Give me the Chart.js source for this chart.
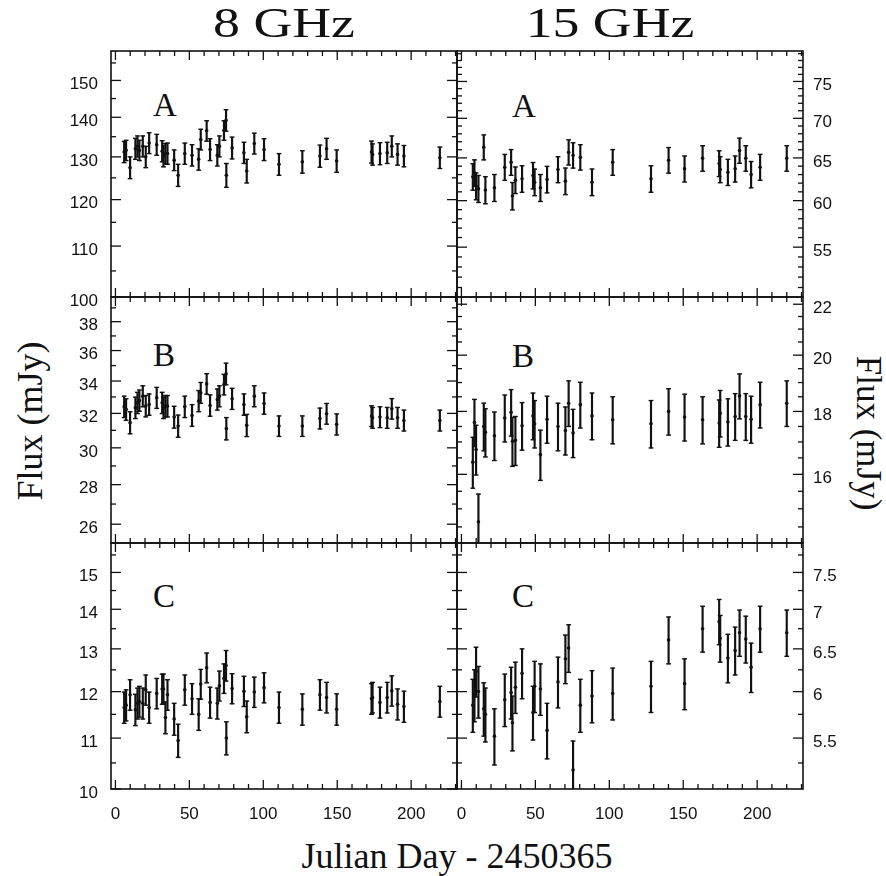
<!DOCTYPE html>
<html>
<head>
<meta charset="utf-8">
<script src="https://cdn.jsdelivr.net/npm/chart.js@4.4.1/dist/chart.umd.min.js"></script>
<style>
  html, body { margin: 0; padding: 0; background: #fff; }
  #fig { position: relative; width: 886px; height: 876px; overflow: hidden; }
  #fig canvas { position: absolute; }
  .txt { position: absolute; font-family: "Liberation Serif", "Times New Roman", serif; color: #111; white-space: nowrap; line-height: 1; }
</style>
</head>
<body>
<div id="fig">
  <div class="txt" style="left:134px;top:1px;width:300px;text-align:center;font-size:43px;transform:scaleX(1.25);">8 GHz</div>
  <div class="txt" style="left:460px;top:1px;width:300px;text-align:center;font-size:43px;transform:scaleX(1.25);">15 GHz</div>
  <div class="txt" style="left:257px;top:838px;width:400px;text-align:center;font-size:36px;">Julian Day - 2450365</div>
  <div class="txt" style="left:-120px;top:403px;width:300px;height:36px;line-height:36px;text-align:center;font-size:36px;transform:rotate(-90deg);">Flux (mJy)</div>
  <div class="txt" style="left:718px;top:415px;width:300px;height:36px;line-height:36px;text-align:center;font-size:35px;transform:rotate(90deg);">Flux (mJy)</div>
  <div class="txt" style="left:153px;top:89px;font-size:33px;">A</div>
  <div class="txt" style="left:512px;top:90px;font-size:33px;">A</div>
  <div class="txt" style="left:153px;top:339px;font-size:33px;">B</div>
  <div class="txt" style="left:512px;top:340px;font-size:33px;">B</div>
  <div class="txt" style="left:153px;top:580px;font-size:33px;">C</div>
  <div class="txt" style="left:512px;top:580px;font-size:33px;">C</div>
</div>
<script>
// --- Data: days since JD 2450365, fluxes in mJy with 1-sigma errors

// 8 GHz epochs
const days8 = [5.9, 7.2, 9.9, 13.5, 14.9, 16.2, 18.5, 20.5, 22.8, 27.9, 31.6, 32.5, 33.8, 35.2, 39.7,
  42.4, 46.9, 51.8, 56.3, 57.7, 61.7, 64.0, 68.9, 70.3, 73.4, 74.8, 75.0, 78.9, 86.9, 88.8,
  93.9, 100.5, 110.6, 126.4, 138.3, 142.8, 149.6, 173.2, 173.9, 178.9, 183.8, 186.9, 190.8, 195.1, 219.4];

const fluxA8 = [131.2, 131.6, 127.4, 132.0, 132.6, 131.6, 132.6, 130.0, 133.4, 133.0, 131.4, 130.2, 130.8, 130.8, 129.2,
  125.6, 130.8, 130.4, 129.4, 134.3, 136.5, 131.8, 130.4, 132.6, 136.6, 139.2, 125.6, 132.2, 131.0, 126.6,
  133.3, 131.8, 128.2, 128.8, 130.2, 132.0, 129.0, 131.2, 130.6, 130.8, 131.0, 132.6, 130.6, 130.2, 129.8];
const errA8 = [2.6, 2.5, 2.6, 2.6, 2.6, 2.5, 2.6, 2.6, 2.6, 2.6, 2.6, 2.6, 2.5, 2.6, 2.5,
  2.6, 2.6, 2.6, 2.6, 2.6, 2.6, 2.7, 2.6, 2.6, 2.5, 2.8, 2.8, 2.7, 2.6, 2.8,
  2.6, 2.7, 2.6, 2.7, 2.7, 2.6, 2.7, 2.7, 2.6, 2.7, 2.6, 2.6, 2.6, 2.6, 2.6];

const fluxB8 = [32.40, 32.24, 31.45, 32.34, 32.64, 32.78, 33.05, 32.44, 32.54, 32.95, 32.64, 32.34, 32.44, 32.44, 31.78,
  31.25, 32.40, 31.88, 32.75, 33.26, 33.82, 32.48, 32.85, 33.05, 33.78, 34.46, 31.10, 32.89, 32.54, 31.29,
  33.05, 32.60, 31.25, 31.25, 31.70, 31.98, 31.35, 31.84, 31.74, 31.78, 31.74, 32.28, 31.74, 31.58, 31.58];
const errB8 = [0.65, 0.65, 0.65, 0.65, 0.65, 0.65, 0.65, 0.65, 0.65, 0.65, 0.65, 0.65, 0.65, 0.65, 0.65,
  0.65, 0.65, 0.65, 0.65, 0.65, 0.65, 0.65, 0.65, 0.65, 0.65, 0.70, 0.65, 0.65, 0.65, 0.65,
  0.65, 0.65, 0.60, 0.60, 0.62, 0.62, 0.62, 0.62, 0.62, 0.62, 0.62, 0.62, 0.62, 0.62, 0.62];

const fluxC8 = [11.65, 11.70, 11.93, 11.60, 11.74, 11.78, 11.74, 12.04, 11.65, 11.96, 12.06, 12.06, 11.43, 11.93, 11.40,
  10.95, 12.04, 11.84, 11.50, 12.17, 12.55, 11.76, 11.74, 12.13, 12.30, 12.60, 11.00, 12.07, 12.01, 11.45,
  11.99, 12.09, 11.65, 11.61, 11.93, 11.87, 11.61, 11.84, 11.87, 11.76, 11.87, 12.02, 11.72, 11.67, 11.78];
const errC8 = [0.34, 0.34, 0.34, 0.34, 0.34, 0.34, 0.34, 0.34, 0.34, 0.34, 0.34, 0.34, 0.34, 0.34, 0.34,
  0.34, 0.34, 0.34, 0.34, 0.34, 0.35, 0.34, 0.34, 0.34, 0.34, 0.36, 0.34, 0.34, 0.34, 0.34,
  0.34, 0.34, 0.34, 0.34, 0.34, 0.34, 0.34, 0.34, 0.34, 0.34, 0.34, 0.34, 0.34, 0.34, 0.34];

// 15 GHz epochs
const days15 = [7.7, 8.8, 9.9, 11.5, 15.1, 16.2, 22.3, 29.3, 33.6, 34.5, 36.5, 41.0, 48.4, 49.5, 53.4,
  57.9, 65.3, 70.3, 72.5, 75.5, 80.4, 88.3, 102.3, 128.2, 140.1, 150.9, 163.1, 174.3, 175.0, 180.2,
  185.1, 188.1, 192.3, 195.9, 202.0, 220.0];

const fluxA15 = [62.74, 63.21, 61.65, 61.35, 66.31, 61.20, 61.46, 63.88, 64.47, 60.52, 62.35, 62.50, 62.89, 62.11, 61.46,
  62.43, 63.60, 62.23, 65.69, 65.32, 65.08, 62.11, 64.47, 62.50, 64.72, 63.68, 64.95, 64.32, 63.60, 63.28,
  63.68, 65.90, 64.95, 63.01, 63.88, 64.95];
const errA15 = [1.55, 1.55, 1.55, 1.55, 1.55, 1.55, 1.55, 1.55, 1.55, 1.55, 1.55, 1.55, 1.55, 1.55, 1.55,
  1.55, 1.55, 1.55, 1.55, 1.55, 1.55, 1.55, 1.55, 1.55, 1.55, 1.55, 1.55, 1.55, 1.55, 1.55,
  1.55, 1.55, 1.55, 1.55, 1.55, 1.55];

const fluxB15 = [16.37, 17.63, 16.76, 14.64, 17.50, 17.31, 17.20, 17.78, 17.97, 17.02, 17.05, 17.52, 17.85, 17.59, 16.60,
  17.74, 17.50, 17.37, 18.28, 17.29, 18.23, 17.85, 17.72, 17.59, 18.00, 17.81, 17.72, 17.61, 17.94, 17.65,
  17.83, 18.53, 17.83, 17.74, 18.23, 18.28];
const errB15 = [0.78, 0.78, 0.78, 0.78, 0.78, 0.78, 0.78, 0.78, 0.78, 0.78, 0.78, 0.78, 0.78, 0.78, 0.78,
  0.78, 0.78, 0.78, 0.78, 0.78, 0.78, 0.78, 0.78, 0.78, 0.78, 0.78, 0.78, 0.78, 0.78, 0.78,
  0.78, 0.78, 0.78, 0.78, 0.78, 0.78];

const fluxC15 = [5.85, 5.96, 6.23, 6.00, 5.81, 5.75, 5.52, 5.91, 5.99, 5.66, 6.05, 6.21, 5.77, 6.06, 6.03,
  5.58, 6.11, 6.38, 6.51, 5.18, 5.85, 5.95, 5.98, 6.06, 6.61, 6.09, 6.75, 6.84, 6.63, 6.39,
  6.48, 6.70, 6.62, 6.28, 6.75, 6.70];
const errC15 = [0.29, 0.29, 0.29, 0.29, 0.29, 0.29, 0.29, 0.29, 0.29, 0.29, 0.29, 0.29, 0.29, 0.29, 0.29,
  0.29, 0.29, 0.29, 0.29, 0.29, 0.29, 0.29, 0.29, 0.29, 0.29, 0.29, 0.29, 0.29, 0.29, 0.29,
  0.29, 0.29, 0.29, 0.29, 0.29, 0.29];

// --- Axis ticks (labelled) and minor ticks
const xTicks = [0, 50, 100, 150, 200];
const xMinor = [10, 20, 30, 40, 60, 70, 80, 90, 110, 120, 130, 140, 160, 170, 180, 190, 210, 220, 230];

const yTicksA8 = [100, 110, 120, 130, 140, 150];
const yMinorA8 = [105, 115, 125, 135, 145, 155];
const yTicksB8 = [26, 28, 30, 32, 34, 36, 38];
const yMinorB8 = [27, 29, 31, 33, 35, 37, 39];
const yTicksC8 = [10, 11, 12, 13, 14, 15];
const yMinorC8 = [10.5, 11.5, 12.5, 13.5, 14.5, 15.5];
const yTicksA15 = [55, 60, 65, 70, 75];
const yMinorA15 = [51, 52, 53, 54, 56, 57, 58, 59, 61, 62, 63, 64, 66, 67, 68, 69, 71, 72, 73, 74, 76, 77, 78, 79];
const yTicksB15 = [16, 18, 20, 22];
const yMinorB15 = [14.5, 15, 15.5, 16.5, 17, 17.5, 18.5, 19, 19.5, 20.5, 21, 21.5];
const yTicksC15 = [5.5, 6, 6.5, 7, 7.5];
const yMinorC15 = [5.25, 5.75, 6.25, 6.75, 7.25, 7.75];

// --- Layout (page pixels)
const INK = "#111";
const X_MIN = -3, X_MAX = 231;
const COL_LEFT = [111, 457];
const PLOT_W = 346;
const ROW_TOP = [51, 297, 543];
const PLOT_H = 246;
const SIDE = 60;     // room for tick labels
const GAP = 10;
const PAD_T = 20, PAD_B = 20, X_AXIS_H = 48;

const tickFont = { family: "'Liberation Sans', Arial, sans-serif", size: 17 };

const panels = [
  { col: 0, row: 0, days: days8,  flux: fluxA8,  err: errA8,  yMin: 100,  yMax: 158.5, ticks: yTicksA8,  minor: yMinorA8 },
  { col: 0, row: 1, days: days8,  flux: fluxB8,  err: errB8,  yMin: 25.1, yMax: 39.8,  ticks: yTicksB8,  minor: yMinorB8 },
  { col: 0, row: 2, days: days8,  flux: fluxC8,  err: errC8,  yMin: 10,   yMax: 15.85, ticks: yTicksC8,  minor: yMinorC8 },
  { col: 1, row: 0, days: days15, flux: fluxA15, err: errA15, yMin: 50.1, yMax: 79.4,  ticks: yTicksA15, minor: yMinorA15 },
  { col: 1, row: 1, days: days15, flux: fluxB15, err: errB15, yMin: 14.07, yMax: 22.3, ticks: yTicksB15, minor: yMinorB15 },
  { col: 1, row: 2, days: days15, flux: fluxC15, err: errC15, yMin: 5.0,  yMax: 7.925, ticks: yTicksC15, minor: yMinorC15 },
];

// box + inward tick marks on all four sides
const framePlugin = {
  id: "frame",
  afterDatasetsDraw(chart, args, opts) {
    const { ctx, chartArea: a, scales: { x, y } } = chart;
    ctx.save();
    ctx.strokeStyle = INK;
    ctx.lineWidth = 1.3;
    const seg = (x1, y1, x2, y2) => { ctx.beginPath(); ctx.moveTo(x1, y1); ctx.lineTo(x2, y2); ctx.stroke(); };
    const xt = (vals, len) => vals.forEach(v => {
      const px = x.getPixelForValue(v);
      seg(px, a.bottom, px, a.bottom - len);
      seg(px, a.top, px, a.top + len);
    });
    const yt = (vals, len) => vals.forEach(v => {
      if (v < y.min || v > y.max) return;
      const py = y.getPixelForValue(v);
      seg(a.left, py, a.left + len, py);
      seg(a.right, py, a.right - len, py);
    });
    xt(xTicks, 9);
    xt(xMinor, 5);
    yt(opts.ticks, 10);
    yt(opts.minor, 5);
    ctx.lineWidth = 1.6;
    ctx.strokeRect(a.left, a.top, a.right - a.left, a.bottom - a.top);
    ctx.restore();
  }
};

function makePanel(p) {
  const isLeft = p.col === 0;
  const isBottom = p.row === 2;
  const cv = document.createElement("canvas");
  cv.width = SIDE + PLOT_W + GAP;
  cv.height = PAD_T + PLOT_H + (isBottom ? X_AXIS_H : PAD_B);
  cv.style.left = (isLeft ? COL_LEFT[0] - SIDE : COL_LEFT[1] - GAP) + "px";
  cv.style.top = (ROW_TOP[p.row] - PAD_T) + "px";
  document.getElementById("fig").appendChild(cv);

  const bars = p.days.map((d, i) => ({ x: d, y: [p.flux[i] - p.err[i], p.flux[i] + p.err[i]] }));
  const lo = p.days.map((d, i) => ({ x: d, y: p.flux[i] - p.err[i] }));
  const hi = p.days.map((d, i) => ({ x: d, y: p.flux[i] + p.err[i] }));
  const mid = p.days.map((d, i) => ({ x: d, y: p.flux[i] }));
  const cap = { pointStyle: "line", radius: 2.4, borderWidth: 1.4, borderColor: INK, backgroundColor: INK };

  return new Chart(cv, {
    type: "scatter",
    data: {
      datasets: [
        { type: "bar", data: bars, barThickness: 1.5, backgroundColor: INK, borderWidth: 0, grouped: false },
        Object.assign({ data: lo }, cap),
        Object.assign({ data: hi }, cap),
        { data: mid, pointStyle: "circle", radius: 1.8, backgroundColor: INK, borderColor: INK, borderWidth: 0 }
      ]
    },
    options: {
      responsive: false,
      animation: false,
      events: [],
      layout: { padding: { left: isLeft ? 0 : GAP, right: isLeft ? GAP : 0, top: PAD_T, bottom: isBottom ? 0 : PAD_B } },
      plugins: {
        legend: { display: false },
        tooltip: { enabled: false },
        frame: { ticks: p.ticks, minor: p.minor }
      },
      scales: {
        x: {
          type: "linear", min: X_MIN, max: X_MAX, offset: false, display: isBottom,
          grid: { display: false, drawTicks: false, offset: false }, border: { display: false },
          afterBuildTicks: s => { s.ticks = xTicks.map(v => ({ value: v })); },
          afterFit: s => {
            if (isBottom) s.height = X_AXIS_H;
            s.paddingLeft = 0; s.paddingRight = 0;
          },
          ticks: { font: tickFont, color: INK, padding: 15, maxRotation: 0, autoSkip: false, callback: v => String(v) }
        },
        y: {
          type: "logarithmic", position: isLeft ? "left" : "right", min: p.yMin, max: p.yMax,
          grid: { display: false, drawTicks: false }, border: { display: false },
          afterBuildTicks: s => { s.ticks = p.ticks.map(v => ({ value: v })); },
          afterFit: s => { s.width = SIDE; s.paddingTop = 0; s.paddingBottom = 0; },
          ticks: { font: tickFont, color: INK, padding: isLeft ? 13 : 10, labelOffset: 4, autoSkip: false, callback: v => String(v) }
        }
      }
    },
    plugins: [framePlugin]
  });
}

panels.forEach(makePanel);
</script>
</body>
</html>
